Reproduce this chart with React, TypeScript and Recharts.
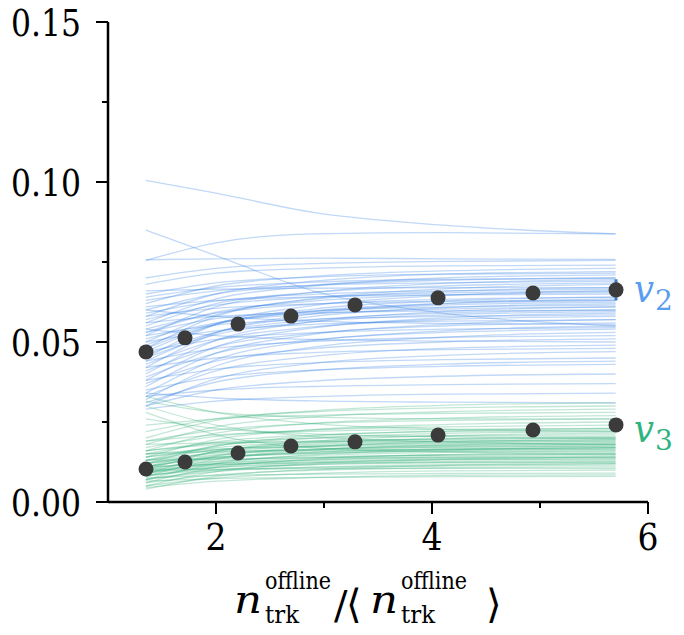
import React from "react";
import { ComposedChart, Line, Scatter, XAxis, YAxis, ErrorBar } from "recharts";

// x positions at which the model curves are sampled
const modelX = [1.35, 2.0, 2.9, 4.1, 5.7];

// v2 model curves (values at modelX)
const v2Models: number[][] = [
  [0.1005, 0.0965, 0.0905, 0.0865, 0.0838],
  [0.0755, 0.081, 0.0838, 0.0842, 0.0838],
  [0.085, 0.077, 0.066, 0.059, 0.055],
  [0.0757, 0.076, 0.0762, 0.076, 0.0758],
  [0.07, 0.073, 0.0745, 0.0752, 0.0755],
  [0.068, 0.0715, 0.073, 0.0738, 0.074],
  [0.062, 0.0675, 0.0705, 0.0722, 0.073],
  [0.058, 0.065, 0.069, 0.0712, 0.072],
  [0.065, 0.0685, 0.0703, 0.0712, 0.0715],
  [0.056, 0.0635, 0.0675, 0.07, 0.071],
  [0.06, 0.065, 0.0678, 0.0693, 0.07],
  [0.052, 0.061, 0.0655, 0.0683, 0.0695],
  [0.063, 0.066, 0.0677, 0.0685, 0.069],
  [0.055, 0.062, 0.0655, 0.0675, 0.0685],
  [0.048, 0.058, 0.0636, 0.0666, 0.068],
  [0.066, 0.0665, 0.0668, 0.067, 0.067],
  [0.05, 0.0585, 0.0633, 0.0658, 0.067],
  [0.057, 0.0615, 0.064, 0.0653, 0.066],
  [0.045, 0.0555, 0.0614, 0.0645, 0.066],
  [0.053, 0.0593, 0.0628, 0.0647, 0.0655],
  [0.061, 0.063, 0.0641, 0.0647, 0.065],
  [0.047, 0.0555, 0.0603, 0.0628, 0.064],
  [0.054, 0.059, 0.0618, 0.0633, 0.064],
  [0.042, 0.0528, 0.0588, 0.062, 0.0635],
  [0.058, 0.0605, 0.0619, 0.0627, 0.063],
  [0.049, 0.0558, 0.0595, 0.0615, 0.0625],
  [0.044, 0.053, 0.058, 0.0607, 0.062],
  [0.051, 0.056, 0.0588, 0.0603, 0.061],
  [0.04, 0.0505, 0.0564, 0.0595, 0.061],
  [0.056, 0.058, 0.0591, 0.0597, 0.06],
  [0.046, 0.053, 0.0569, 0.059, 0.06],
  [0.038, 0.0485, 0.0544, 0.0575, 0.059],
  [0.052, 0.0553, 0.0571, 0.058, 0.0585],
  [0.043, 0.0505, 0.0547, 0.057, 0.058],
  [0.036, 0.0465, 0.0524, 0.0555, 0.057],
  [0.05, 0.0535, 0.0555, 0.0565, 0.057],
  [0.041, 0.0485, 0.0527, 0.055, 0.056],
  [0.06, 0.058, 0.0565, 0.0558, 0.0555],
  [0.034, 0.0445, 0.0504, 0.0535, 0.055],
  [0.047, 0.0508, 0.0529, 0.054, 0.0545],
  [0.039, 0.0465, 0.0507, 0.053, 0.054],
  [0.032, 0.0425, 0.0484, 0.0515, 0.053],
  [0.044, 0.048, 0.0502, 0.0514, 0.052],
  [0.037, 0.044, 0.0479, 0.05, 0.051],
  [0.054, 0.052, 0.0508, 0.0503, 0.05],
  [0.033, 0.041, 0.0455, 0.048, 0.049],
  [0.042, 0.045, 0.0467, 0.0476, 0.048],
  [0.03, 0.0385, 0.0433, 0.0458, 0.047],
  [0.038, 0.0415, 0.0435, 0.0445, 0.045],
  [0.031, 0.0375, 0.0411, 0.0431, 0.044],
  [0.035, 0.039, 0.0412, 0.0424, 0.043],
  [0.03, 0.035, 0.0378, 0.0393, 0.04],
  [0.033, 0.035, 0.0361, 0.0367, 0.037],
  [0.029, 0.0315, 0.0329, 0.0337, 0.034],
  [0.034, 0.0325, 0.0316, 0.0312, 0.031],
  [0.064, 0.067, 0.0687, 0.0696, 0.07],
  [0.059, 0.0628, 0.0649, 0.066, 0.0665],
  [0.048, 0.0555, 0.0597, 0.062, 0.063],
  [0.053, 0.0573, 0.0596, 0.0609, 0.0615],
  [0.045, 0.0523, 0.0563, 0.0585, 0.0595],
];

// v3 model curves (values at modelX)
const v3Models: number[][] = [
  [0.033, 0.028, 0.0245, 0.0228, 0.022],
  [0.03, 0.024, 0.0205, 0.0188, 0.018],
  [0.0315, 0.028, 0.0265, 0.026, 0.026],
  [0.028, 0.021, 0.017, 0.0157, 0.015],
  [0.02, 0.0255, 0.0285, 0.0302, 0.031],
  [0.022, 0.026, 0.0282, 0.0294, 0.03],
  [0.018, 0.0235, 0.0266, 0.0282, 0.029],
  [0.024, 0.026, 0.0271, 0.0277, 0.028],
  [0.016, 0.0215, 0.0246, 0.0262, 0.027],
  [0.019, 0.0225, 0.0245, 0.0255, 0.026],
  [0.014, 0.0195, 0.0226, 0.0242, 0.025],
  [0.017, 0.0205, 0.0225, 0.0235, 0.024],
  [0.012, 0.0175, 0.0206, 0.0222, 0.023],
  [0.015, 0.0188, 0.0209, 0.022, 0.0225],
  [0.013, 0.0175, 0.02, 0.0214, 0.022],
  [0.01, 0.0158, 0.019, 0.0207, 0.0215],
  [0.016, 0.0185, 0.0199, 0.0207, 0.021],
  [0.011, 0.0158, 0.0184, 0.0198, 0.0205],
  [0.014, 0.017, 0.0187, 0.0196, 0.02],
  [0.009, 0.0143, 0.0172, 0.0188, 0.0195],
  [0.012, 0.0155, 0.0175, 0.0185, 0.019],
  [0.018, 0.0185, 0.0188, 0.019, 0.019],
  [0.008, 0.0133, 0.0162, 0.0178, 0.0185],
  [0.011, 0.0145, 0.0165, 0.0175, 0.018],
  [0.013, 0.0153, 0.0165, 0.0172, 0.0175],
  [0.007, 0.012, 0.0148, 0.0163, 0.017],
  [0.01, 0.0135, 0.0155, 0.0165, 0.017],
  [0.015, 0.0158, 0.0162, 0.0164, 0.0165],
  [0.009, 0.0125, 0.0145, 0.0155, 0.016],
  [0.012, 0.014, 0.0151, 0.0158, 0.016],
  [0.006, 0.0108, 0.0134, 0.0148, 0.0155],
  [0.0105, 0.0128, 0.014, 0.0147, 0.015],
  [0.008, 0.0113, 0.0131, 0.0141, 0.0145],
  [0.013, 0.0135, 0.0138, 0.0139, 0.014],
  [0.005, 0.0095, 0.012, 0.0133, 0.014],
  [0.0095, 0.0115, 0.0126, 0.0133, 0.0135],
  [0.007, 0.01, 0.0117, 0.0126, 0.013],
  [0.011, 0.0118, 0.0122, 0.0124, 0.0125],
  [0.004, 0.008, 0.0102, 0.0114, 0.012],
  [0.0085, 0.01, 0.0108, 0.0113, 0.0115],
  [0.006, 0.0085, 0.0099, 0.0107, 0.011],
  [0.01, 0.0103, 0.0104, 0.0105, 0.0105],
  [0.005, 0.0075, 0.0089, 0.0097, 0.01],
  [0.0075, 0.0083, 0.0087, 0.0089, 0.009],
  [0.0045, 0.0065, 0.0076, 0.0083, 0.0085],
  [0.0065, 0.0073, 0.0077, 0.0079, 0.008],
  [0.014, 0.0163, 0.0175, 0.0182, 0.0185],
  [0.012, 0.0148, 0.0163, 0.0171, 0.0175],
  [0.011, 0.0138, 0.0153, 0.0161, 0.0165],
  [0.009, 0.012, 0.0137, 0.0146, 0.015],
  [0.01, 0.012, 0.0131, 0.0137, 0.014],
  [0.007, 0.0095, 0.0109, 0.0117, 0.012],
  [0.016, 0.018, 0.0191, 0.0197, 0.02],
  [0.013, 0.0163, 0.018, 0.019, 0.0195],
  [0.019, 0.021, 0.0221, 0.0227, 0.023],
  [0.026, 0.023, 0.0213, 0.0204, 0.02],
  [0.011, 0.014, 0.0157, 0.0166, 0.017],
  [0.008, 0.0108, 0.0123, 0.0131, 0.0135],
  [0.015, 0.0165, 0.0173, 0.0178, 0.018],
  [0.009, 0.0108, 0.0117, 0.0122, 0.0125],
];

// measured points
const dataX = [1.352, 1.713, 2.204, 2.694, 3.287, 4.056, 4.935, 5.704];
const v2Values = [0.0469, 0.0513, 0.0556, 0.0581, 0.0616, 0.0638, 0.0653, 0.0663];
const v2Errors = [0.0005, 0.0006, 0.0007, 0.0008, 0.0009, 0.0012, 0.0015, 0.0033];
const v3Values = [0.0103, 0.0125, 0.0153, 0.0175, 0.0188, 0.0209, 0.0225, 0.0241];
const v3Errors = [0.0004, 0.0004, 0.0005, 0.0005, 0.0005, 0.0006, 0.0006, 0.0007];

const yTicks = [0, 0.025, 0.05, 0.075, 0.1, 0.125, 0.15];
const xTicks = [2, 3, 4, 5, 6];

const BLUE = "#5a9cf0";
const GREEN = "#2fb47f";
const LINE_BLUE = "#3f85e6";
const LINE_GREEN = "#23a86f";
const DOT = "#3b3b3b";
const SERIF = "DejaVu Serif";

const toCurve = (vals: number[]) => vals.map((y, i) => ({ x: modelX[i], y }));
const toPoints = (vals: number[], errs: number[]) =>
  vals.map((y, i) => ({ x: dataX[i], y, err: errs[i] }));

const isMajorY = (v: number) => Math.abs(v / 0.05 - Math.round(v / 0.05)) < 1e-6;

const YTick = (props: any) => {
  const { x, y, payload } = props;
  const major = isMajorY(payload.value);
  return (
    <g>
      <line x1={x - (major ? 12 : 6)} x2={x} y1={y} y2={y} stroke="#000" strokeWidth={2} />
      {major && (
        <text
          x={x - 27}
          y={y + 14}
          textAnchor="end"
          textLength={70}
          lengthAdjust="spacingAndGlyphs"
          style={{ fontFamily: SERIF, fontSize: 38, fontWeight: 300 }}
          fill="#000"
        >
          {payload.value.toFixed(2)}
        </text>
      )}
    </g>
  );
};

const XTick = (props: any) => {
  const { x, y, payload } = props;
  const major = payload.value % 2 === 0;
  return (
    <g>
      <line x1={x} x2={x} y1={y} y2={y + (major ? 12 : 6)} stroke="#000" strokeWidth={2} />
      {major && (
        <text
          x={x}
          y={y + 48}
          textAnchor="middle"
          textLength={21}
          lengthAdjust="spacingAndGlyphs"
          style={{ fontFamily: SERIF, fontSize: 38 }}
          fill="#000"
        >
          {String(payload.value)}
        </text>
      )}
    </g>
  );
};

const Dot = (props: any) => <circle cx={props.cx} cy={props.cy} r={7.5} fill={DOT} />;

const T = (p: any) => {
  const { x, y, size, italic, color, len, children } = p;
  return (
    <text
      x={x}
      y={y}
      fill={color || "#000"}
      textLength={len}
      lengthAdjust={len ? "spacingAndGlyphs" : undefined}
      style={{ fontFamily: SERIF, fontSize: size, fontStyle: italic ? "italic" : "normal" }}
    >
      {children}
    </text>
  );
};

export default function App() {
  const W = 668;
  const H = 619;
  return (
    <div style={{ position: "relative", width: W, height: H }}>
      <ComposedChart
        width={W}
        height={H}
        margin={{ top: 14, right: 28, left: 0, bottom: 0 }}
        style={{ overflow: "visible" }}
      >
        <XAxis
          type="number"
          dataKey="x"
          domain={[1, 6]}
          ticks={xTicks}
          height={125}
          tickSize={0}
          tickMargin={0}
          tick={<XTick />}
          axisLine={{ stroke: "#000", strokeWidth: 2.5 }}
          allowDataOverflow
        />
        <YAxis
          type="number"
          dataKey="y"
          domain={[0, 0.15]}
          ticks={yTicks}
          width={100}
          tickSize={0}
          tickMargin={0}
          tick={<YTick />}
          axisLine={{ stroke: "#000", strokeWidth: 2.5 }}
          allowDataOverflow
        />
        {v2Models.map((vals, i) => (
          <Line
            key={"b" + i}
            data={toCurve(vals)}
            dataKey="y"
            type="monotone"
            dot={false}
            activeDot={false}
            stroke={LINE_BLUE}
            strokeOpacity={0.32}
            strokeWidth={1.3}
            isAnimationActive={false}
          />
        ))}
        {v3Models.map((vals, i) => (
          <Line
            key={"g" + i}
            data={toCurve(vals)}
            dataKey="y"
            type="monotone"
            dot={false}
            activeDot={false}
            stroke={LINE_GREEN}
            strokeOpacity={0.28}
            strokeWidth={1.3}
            isAnimationActive={false}
          />
        ))}
        <Scatter data={toPoints(v2Values, v2Errors)} dataKey="y" shape={<Dot />} isAnimationActive={false}>
          <ErrorBar dataKey="err" direction="y" width={0} stroke="#3f78c4" strokeWidth={3} isAnimationActive={false} />
        </Scatter>
        <Scatter data={toPoints(v3Values, v3Errors)} dataKey="y" shape={<Dot />} isAnimationActive={false}>
          <ErrorBar dataKey="err" direction="y" width={0} stroke="#2a9a6c" strokeWidth={3} isAnimationActive={false} />
        </Scatter>
      </ComposedChart>
      <svg
        width={W}
        height={H}
        style={{ position: "absolute", left: 0, top: 0, pointerEvents: "none", overflow: "visible" }}
      >
        <T x={626} y={294} size={40} italic color={BLUE} len={20}>v</T>
        <T x={647} y={302} size={28} color={BLUE}>2</T>
        <T x={626} y={434} size={40} italic color={GREEN} len={20}>v</T>
        <T x={647} y={442} size={28} color={GREEN}>3</T>

        <T x={226} y={605} size={40} italic len={28}>n</T>
        <T x={257} y={581} size={25} len={66}>offline</T>
        <T x={257} y={615} size={25} len={34}>trk</T>
        <T x={326} y={611} size={40}>/</T>
        <T x={338} y={610} size={40}>⟨</T>
        <T x={362} y={605} size={40} italic len={28}>n</T>
        <T x={393} y={581} size={25} len={66}>offline</T>
        <T x={393} y={615} size={25} len={34}>trk</T>
        <T x={478} y={610} size={40}>⟩</T>
      </svg>
    </div>
  );
}
